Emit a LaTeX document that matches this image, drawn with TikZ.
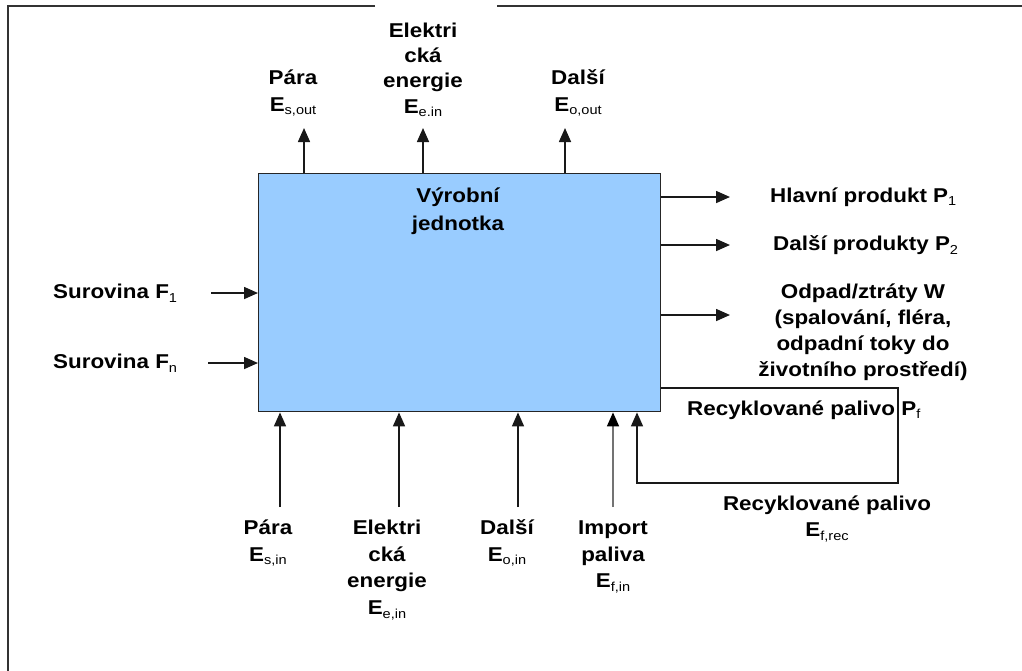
\documentclass[tikz,border=0pt]{standalone}
\usepackage{fontspec}
\setmainfont{Liberation Sans}[FakeStretch=1.12]
\usetikzlibrary{arrows.meta}
\definecolor{boxblue}{HTML}{99CCFF}
% lowered, lighter index after a symbol
\newcommand\sbs[1]{\raisebox{-0.35ex}{\fontsize{13}{13}\selectfont\mdseries #1}}

\begin{document}
\begin{tikzpicture}[x=1pt,y=-1pt,
  lbl/.style={font=\fontsize{20}{27}\selectfont\bfseries, align=center, inner sep=0pt},
  lblw/.style={lbl, anchor=west},
  flow/.style={line width=1.6pt, draw=black!90, -{Triangle[length=14pt,width=12pt]}},
  wire/.style={line width=1.4pt, draw=black!85},
  frame/.style={line width=1.6pt, draw=black!80}]
\useasboundingbox (0,0) rectangle (1022,670);

% outer frame (left and top edges, top broken by a gap)
\coordinate (fa) at (375,6);
\coordinate (fb) at (8,6);
\coordinate (fc) at (8,672);
\coordinate (fd) at (497,6);
\coordinate (fe) at (1024,6);
\draw[frame] (fa) -- (fb) -- (fc);
\draw[frame] (fd) -- (fe);

% production unit
\node[draw=black!85, fill=boxblue, line width=1.4pt, anchor=north west,
      minimum width=402pt, minimum height=238pt, inner sep=0pt] (unit) at (258,173) {};
\node[lbl, font=\fontsize{20}{28}\selectfont\bfseries] (unitname) at (458,211) {Výrobní\\jednotka};

% energy outputs (top)
\coordinate (tS) at (304,128);
\coordinate (tE) at (423,128);
\coordinate (tO) at (565,128);
\draw[flow] (tS |- unit.north) -- (tS);
\draw[flow] (tE |- unit.north) -- (tE);
\draw[flow] (tO |- unit.north) -- (tO);
\node[lbl] (lS) at (293,93) {Pára\\E\sbs{s,out}};
\node[lbl, font=\fontsize{20}{25.3}\selectfont\bfseries] (lE) at (423,70) {Elektri\\cká\\energie\\E\sbs{e.in}};
\node[lbl] (lO) at (578,93) {Další\\E\sbs{o,out}};

% products (right)
\coordinate (p1) at (730,197);
\coordinate (p2) at (730,245);
\coordinate (pw) at (730,315);
\draw[flow] (unit.east |- p1) -- (p1);
\draw[flow] (unit.east |- p2) -- (p2);
\draw[flow] (unit.east |- pw) -- (pw);
\node[lblw] (lp1) at (770,197) {Hlavní produkt P\sbs{1}};
\node[lblw] (lp2) at (773,245) {Další produkty P\sbs{2}};
\node[lbl, font=\fontsize{20}{26}\selectfont\bfseries] (lpw) at (863,332)
  {Odpad/ztráty W\\(spalování, fléra,\\odpadní toky do\\životního prostředí)};

% raw materials (left)
\coordinate (f1) at (211,293);
\coordinate (fn) at (208,363);
\draw[flow] (f1) -- (f1 -| unit.west);
\draw[flow] (fn) -- (fn -| unit.west);
\node[lblw] (lf1) at (53,293) {Surovina F\sbs{1}};
\node[lblw] (lfn) at (53,363) {Surovina F\sbs{n}};

% energy inputs (bottom)
\coordinate (bS) at (280,507);
\coordinate (bE) at (399,507);
\coordinate (bO) at (518,507);
\coordinate (bF) at (613,507);
\draw[flow] (bS) -- (bS |- unit.south);
\draw[flow] (bE) -- (bE |- unit.south);
\draw[flow] (bO) -- (bO |- unit.south);
\draw[flow, draw=black!55, -{Triangle[length=14pt,width=12pt,color=black]}] (bF) -- (bF |- unit.south);
\node[lbl, font=\fontsize{20}{26.7}\selectfont\bfseries] (lbS) at (268,543) {Pára\\E\sbs{s,in}};
\node[lbl, font=\fontsize{20}{26.7}\selectfont\bfseries] (lbE) at (387,570) {Elektri\\cká\\energie\\E\sbs{e,in}};
\node[lbl, font=\fontsize{20}{26.7}\selectfont\bfseries] (lbO) at (507,543) {Další\\E\sbs{o,in}};
\node[lbl, font=\fontsize{20}{26.7}\selectfont\bfseries] (lbF) at (613,557) {Import\\paliva\\E\sbs{f,in}};

% recycled fuel loop
\coordinate (r1) at (898,388);
\coordinate (r2) at (898,483);
\coordinate (r3) at (637,483);
\draw[flow] (unit.east |- r1) -- (r1) -- (r2) -- (r3) -- (r3 |- unit.south);
\node[lblw] (lrp) at (687,410) {Recyklované palivo P\sbs{f}};
\node[lbl, font=\fontsize{20}{26}\selectfont\bfseries] (lre) at (827,519) {Recyklované palivo\\E\sbs{f,rec}};
\end{tikzpicture}
\end{document}
